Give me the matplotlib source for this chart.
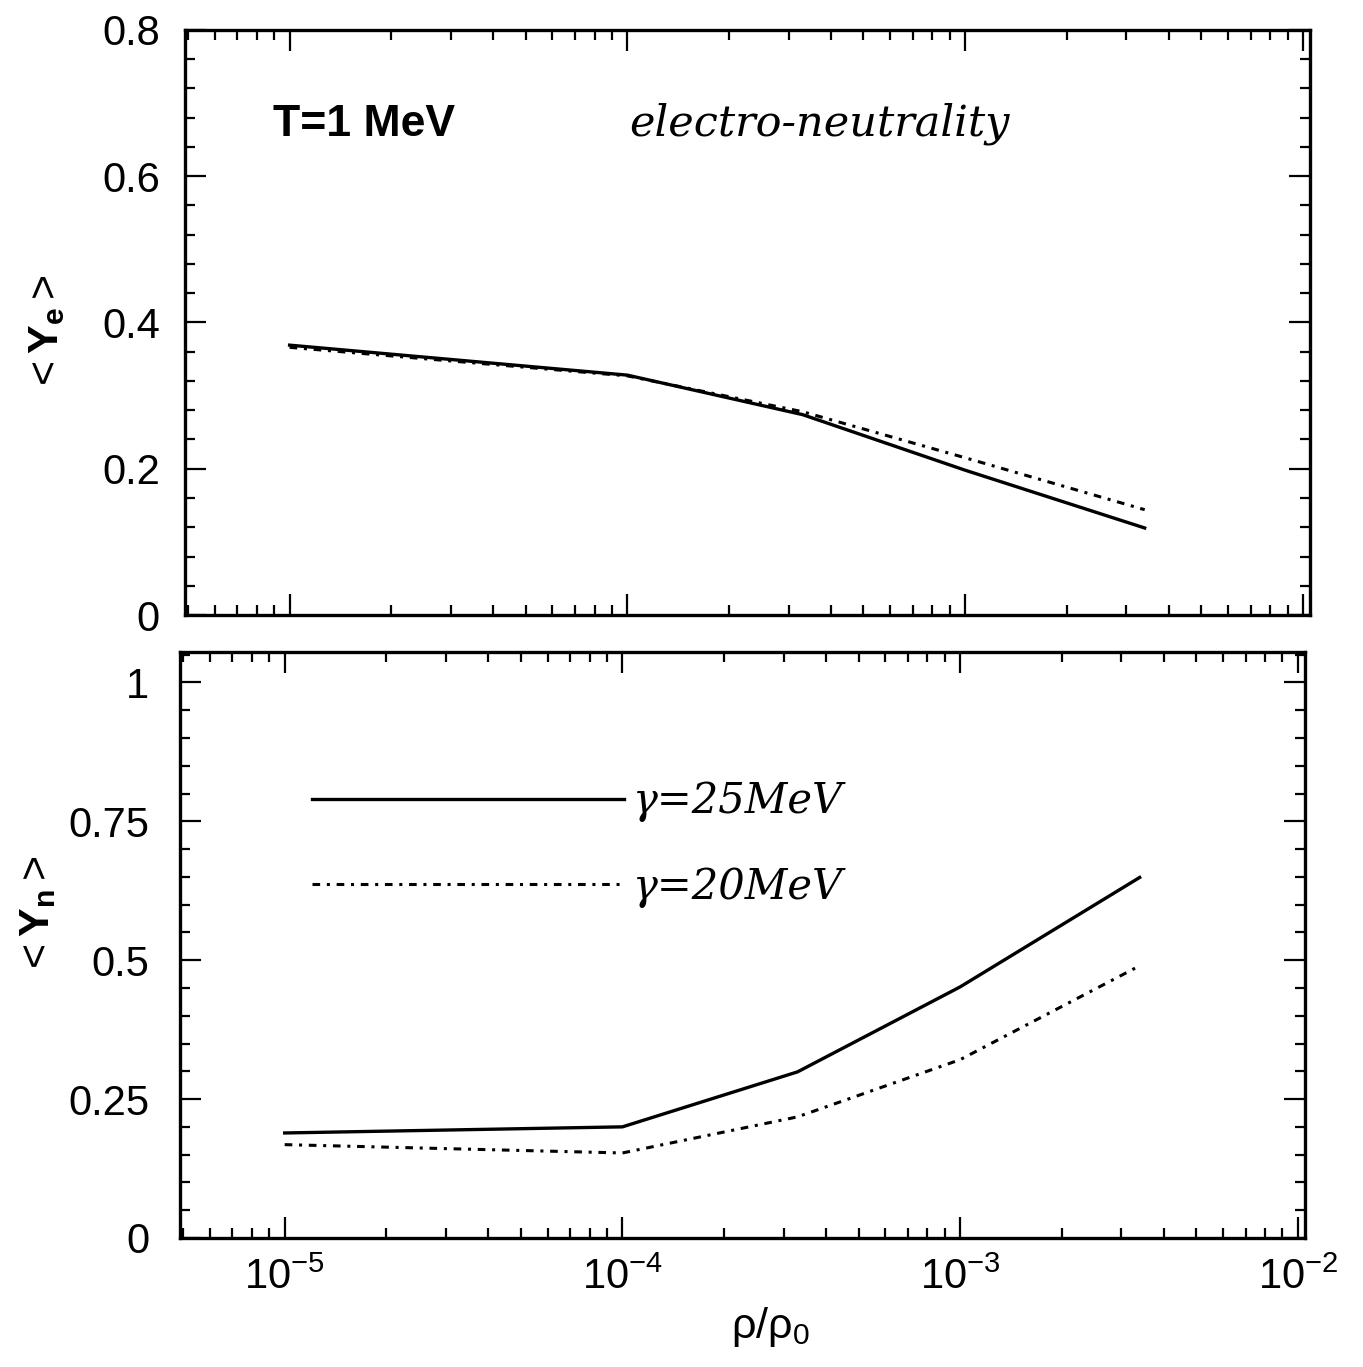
import matplotlib
matplotlib.use('Agg')
import matplotlib.pyplot as plt
from matplotlib.ticker import LogLocator, MultipleLocator, FixedLocator, FixedFormatter

plt.rcParams['font.family'] = ['Liberation Sans', 'DejaVu Sans']
plt.rcParams['mathtext.fontset'] = 'custom'
plt.rcParams['mathtext.rm'] = 'Liberation Sans'
plt.rcParams['mathtext.it'] = 'Liberation Sans:italic'
plt.rcParams['mathtext.bf'] = 'Liberation Sans:bold'

# density rho/rho_0
rho = [1e-5, 1e-4, 3.3e-4, 1e-3, 3.4e-3]

# <Y_e>, electro-neutrality
ye_25 = [0.369, 0.328, 0.274, 0.198, 0.119]
ye_20 = [0.366, 0.327, 0.278, 0.215, 0.144]

# <Y_n>
yn_25 = [0.189, 0.200, 0.299, 0.452, 0.649]
yn_20 = [0.168, 0.153, 0.218, 0.321, 0.490]

labels = ['γ=25MeV', 'γ=20MeV']
dashdot = (0, (2.5, 2.2, 1, 2.2))

fig = plt.figure(figsize=(13.63, 13.67), dpi=100)
ax1 = fig.add_axes([0.1357, 0.5501, 0.8255, 0.428])
ax2 = fig.add_axes([0.1321, 0.0944, 0.8254, 0.4287])

xlim = (4.9e-6, 1.05e-2)

for ax in (ax1, ax2):
    ax.set_xscale('log')
    ax.set_xlim(*xlim)
    ax.xaxis.set_major_locator(LogLocator(base=10, numticks=10))
    ax.xaxis.set_minor_locator(LogLocator(base=10, subs=range(2, 10), numticks=20))
    ax.tick_params(which='both', direction='in', top=True, right=True, width=1.6)
    ax.tick_params(which='major', length=15, labelsize=30)
    ax.tick_params(which='minor', length=7)
    for s in ax.spines.values():
        s.set_linewidth(2.4)

# top panel
ax1.plot(rho, ye_25, color='black', lw=2.4)
ax1.plot(rho, ye_20, color='black', lw=2.2, linestyle=dashdot)
ax1.set_ylim(0, 0.8)
ax1.yaxis.set_major_locator(FixedLocator([0, 0.2, 0.4, 0.6, 0.8]))
ax1.yaxis.set_major_formatter(FixedFormatter(['0', '0.2', '0.4', '0.6', '0.8']))
ax1.yaxis.set_minor_locator(MultipleLocator(0.04))
ax1.tick_params(axis='x', labelbottom=False)
ax1.tick_params(axis='y', pad=18)
ax1.set_ylabel(r'$<\mathbf{Y_e}>$', fontsize=31)
ax1.yaxis.set_label_coords(-0.105, 0.48)
ax1.text(0.078, 0.839, 'T=1 MeV', transform=ax1.transAxes, fontsize=32,
         fontweight='bold', va='center', ha='left')
ax1.text(0.395, 0.839, 'electro-neutrality', transform=ax1.transAxes, fontsize=31,
         family='DejaVu Serif', style='italic', va='center', ha='left')

# bottom panel
ax2.plot(rho, yn_25, color='black', lw=2.4, label=labels[0])
ax2.plot(rho, yn_20, color='black', lw=2.2, linestyle=dashdot, label=labels[1])
ax2.set_ylim(0, 1.055)
ax2.yaxis.set_major_locator(FixedLocator([0, 0.25, 0.5, 0.75, 1]))
ax2.yaxis.set_major_formatter(FixedFormatter(['0', '0.25', '0.5', '0.75', '1']))
ax2.yaxis.set_minor_locator(MultipleLocator(0.05))
ax2.tick_params(axis='y', pad=22)
ax2.tick_params(axis='x', pad=14)
ax2.set_ylabel(r'$<\mathbf{Y_n}>$', fontsize=31)
ax2.yaxis.set_label_coords(-0.108, 0.55)
ax2.set_xlabel('ρ/ρ$_0$', fontsize=31)
ax2.xaxis.set_label_coords(0.525, -0.115)

leg = ax2.legend(loc='center left', bbox_to_anchor=(0.117, 0.672), frameon=False,
                 handlelength=7.5, handletextpad=0.2, labelspacing=1.05,
                 borderpad=0, borderaxespad=0,
                 prop={'family': 'DejaVu Serif', 'style': 'italic', 'size': 30})

fig.savefig('out.png', dpi=100)
